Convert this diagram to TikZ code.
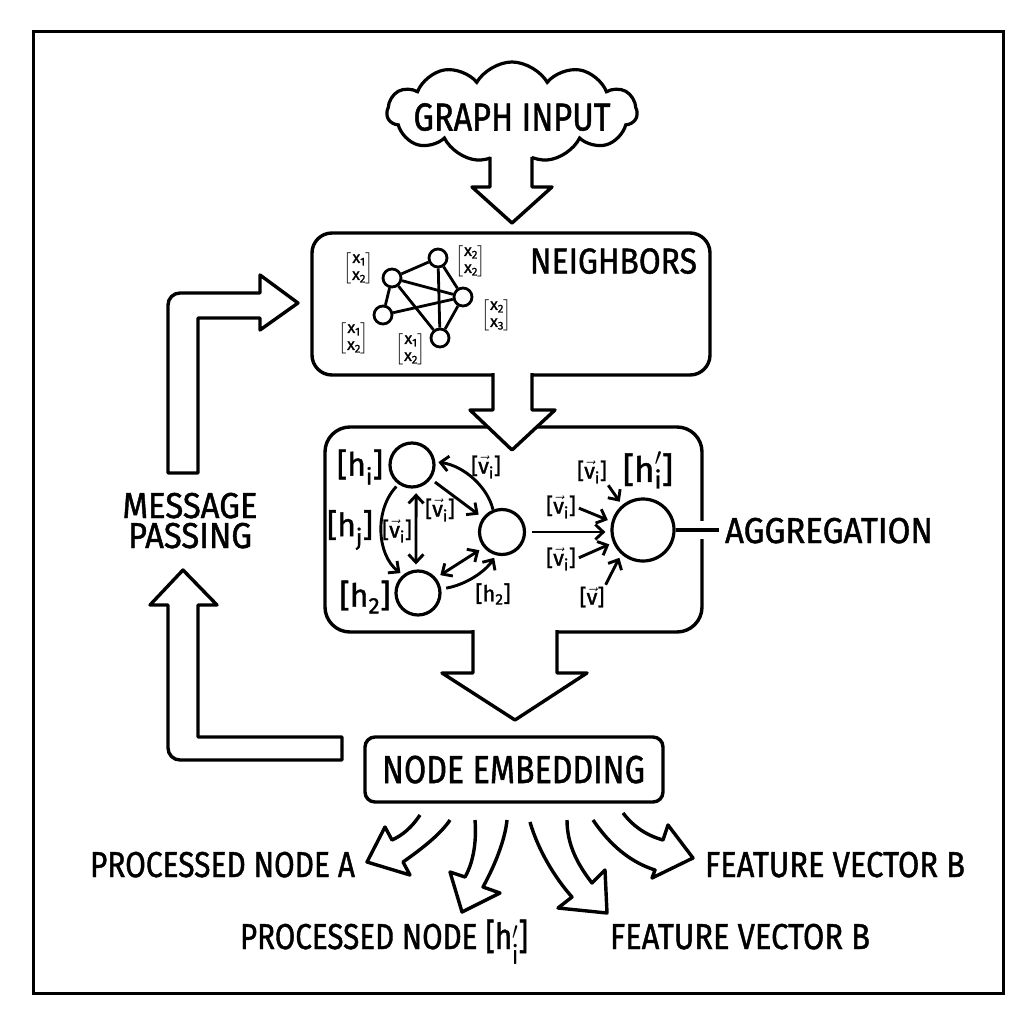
\documentclass[tikz,border=0pt]{standalone}
\usepackage{fontspec}
\setmainfont{Fira Sans}[FakeBold=1.3]
\usepackage{amsmath}
\usepackage{graphicx}
\usetikzlibrary{shapes.symbols,arrows.meta,calc}
\newlength\lblw
\newcommand\fitw[2]{\settowidth\lblw{#2}\pgfmathsetmacro\lblsx{#1/\lblw}\scalebox{\lblsx}[1]{#2}}
\newcommand\mx[2]{$\left[\begin{array}{@{}c@{}}\text{x}_{\text{#1}}\\\text{x}_{\text{#2}}\end{array}\right]$}
\newcommand\vvi{[$\vec{\text{v}}_{\text{i}}$]}
\tikzset{
  box/.style={draw, line width=3.4pt, inner sep=0pt},
  lbl/.style={font=\fontsize{36}{36}\selectfont, anchor=base, inner sep=0pt},
  biglbl/.style={font=\fontsize{39}{39}\selectfont, anchor=base, inner sep=0pt},
  gdot/.style={circle, draw, line width=2.8pt, minimum size=18pt, inner sep=0pt},
  cir/.style={circle, draw, line width=3.2pt, minimum size=44pt, inner sep=0pt},
  edge/.style={line width=2.8pt},
  arr/.style={line width=2.9pt, -{Straight Barb[length=8pt,width=15pt]}},
  darr/.style={line width=2.9pt, {Straight Barb[length=8pt,width=15pt]}-{Straight Barb[length=8pt,width=15pt]}},
  hlab/.style={font=\fontsize{32}{32}\selectfont, inner sep=0pt},
  vlab/.style={font=\fontsize{22}{22}\selectfont, inner sep=0pt},
  mlab/.style={font=\fontsize{16}{17}\selectfont, inner sep=0pt},
  blk/.style={draw, fill=white, line width=3.4pt, line join=round},
}
\begin{document}
\begin{tikzpicture}[x=1pt,y=-1pt]
\useasboundingbox (0,0) rectangle (1024,1024);
\fill[white] (0,0) rectangle (1024,1024);
\draw[line width=3pt] (33,32) rectangle (1003,993);

% ---------- cloud ----------
\node[cloud, draw, line width=3.2pt, cloud puffs=11, cloud puff arc=120, aspect=2.5,
      minimum width=250pt, minimum height=100pt, inner sep=0pt] (cloud) at (512,112) {};
\node[biglbl] (gi) at (512,130.5) {\fitw{197}{GRAPH INPUT}};

% ---------- boxes ----------
\node[box, rounded corners=20pt, minimum width=398pt, minimum height=142pt] (nb) at (511,304) {};
\node[box, rounded corners=25pt, minimum width=377pt, minimum height=205pt] (agg) at (513.5,529.5) {};
\node[box, rounded corners=10pt, minimum width=298pt, minimum height=65pt] (emb) at (514,769.5) {};
\node[biglbl] (embt) at (513.5,783) {\fitw{263}{NODE EMBEDDING}};

% ---------- block arrows ----------
\fill[white] (490,140) -- (490,187) -- (472,187) -- (512,223) -- (552,187) -- (532,187) -- (532,140) -- cycle;
\draw[blk, fill=none] (490,157) -- (490,187) -- (472,187) -- (512,223) -- (552,187) -- (532,187) -- (532,157);
\path[blk] (493,373) -- (493,410) -- (470,410) -- (512,450) -- (555,410) -- (532,410) -- (532,373);
\path[blk] (473,630) -- (473,673) -- (442,673) -- (515,720) -- (587,673) -- (557,673) -- (557,630);

% message passing loop
\draw[blk] (168,473) -- (168,320) [rounded corners=12pt] -- (168,293) -- (200,293) [sharp corners]
   -- (260,293) -- (260,275) -- (298,303) -- (260,330) -- (260,318) -- (198,318) -- (198,473) -- cycle;
\draw[blk] (168,605) -- (150,605) -- (183,570) -- (217,605) -- (198,605) -- (198,737) -- (342,737)
   -- (342,760) -- (200,760) [rounded corners=12pt] -- (168,760) -- (168,730) [sharp corners] -- cycle;
\node[lbl] (mp1) at (190,518) {\fitw{135}{MESSAGE}};
\node[lbl] (mp2) at (190,548) {\fitw{124}{PASSING}};

% ---------- neighbors content ----------
\node[lbl] (nbt) at (613.5,273.5) {\fitw{167}{NEIGHBORS}};
\node[gdot] (n1) at (392,278) {};
\node[gdot] (n2) at (438,258) {};
\node[gdot] (n3) at (463,297) {};
\node[gdot] (n4) at (383,315) {};
\node[gdot] (n5) at (440,338) {};
\draw[edge] (n1) -- (n2);
\draw[edge] (n1) -- (n3);
\draw[edge] (n1) -- (n4);
\draw[edge] (n1) -- (n5);
\draw[edge] (n2) -- (n3);
\draw[edge] (n2) -- (n5);
\draw[edge] (n3) -- (n4);
\draw[edge] (n3) -- (n5);
\node[mlab] (m1) at (359,268) {\mx{1}{2}};
\node[mlab] (m2) at (471,261) {\mx{2}{2}};
\node[mlab] (m3) at (497,315) {\mx{2}{3}};
\node[mlab] (m4) at (354,338) {\mx{1}{2}};
\node[mlab] (m5) at (411,349) {\mx{1}{2}};

% ---------- aggregation content ----------
\node[cir] (A) at (412,465) {};
\node[cir] (B) at (418,593) {};
\node[cir, minimum size=45pt] (C) at (502,532) {};
\node[cir, minimum size=62pt] (D) at (643,530) {};

\node[hlab] (lhi) at (360,467) {[h\textsubscript{i}]};
\node[hlab] (lhj) at (350,530) {[h\textsubscript{j}]};
\node[hlab] (lh2) at (365,597) {[h\textsubscript{2}]};
\node[hlab, font=\fontsize{35}{35}\selectfont] (lhp) at (648,470) {[$\text{h}'_{\text{i}}$]};
\node[vlab] (v1) at (486,467) {\vvi};
\node[vlab] (v2) at (440,510) {\vvi};
\node[vlab] (v3) at (397,531) {\vvi};
\node[vlab] (h2s) at (493,594) {[h\textsubscript{2}]};
\node[vlab] (v5) at (561,507) {\vvi};
\node[vlab] (v6) at (561,559) {\vvi};
\node[vlab] (v7) at (592,472) {\vvi};
\node[vlab] (v8) at (592,597) {[$\vec{\text{v}}$]};

\draw[arr, shorten <=5pt, shorten >=5pt] (A) -- (C);
\draw[arr, shorten >=3pt] (C.112) .. controls (488,488) and (465,466) .. (A.8);
\draw[darr, shorten <=5pt, shorten >=5pt] (A.-80) -- (B.95);
\draw[arr, shorten <=3pt, shorten >=3pt] (A.-125) .. controls (374,510) and (377,555) .. (B.130);
\draw[darr, shorten <=5pt, shorten >=5pt] (B.40) -- (C.-140);
\draw[arr, shorten <=5pt, shorten >=3pt] (B.10) .. controls (465,585) and (485,572) .. (C.-105);
\draw[arr, shorten <=6pt, shorten >=5pt] (C.0) -- (C.0 -| D.west);
\draw[arr, shorten <=3pt, shorten >=4pt] (v5.east) -- (D.165);
\draw[arr, shorten <=3pt, shorten >=4pt] (v6.east) -- (D.203);
\draw[arr, shorten <=2pt, shorten >=4pt] (v7.south east) -- (D.130);
\draw[arr, shorten <=2pt, shorten >=4pt] (v8.north east) -- (D.228);

% aggregation label and connector
\node[lbl] (aggt) at (829,543) {\fitw{208}{AGGREGATION}};
\fill[white] (697,521) rectangle (708,539);
\draw[line width=3.2pt, shorten >=6pt] (D.east) -- (D.east -| aggt.west);

% ---------- outputs ----------
\draw[blk] (420,815) .. controls (412,827) and (403,835) .. (392,840) -- (385,827) -- (367,862)
   -- (410,875) -- (403,862) .. controls (420,850) and (440,835) .. (450,820);
\draw[blk] (475,820) .. controls (477,845) and (472,865) .. (465,877) -- (450,872) -- (462,912)
   -- (500,893) -- (483,887) .. controls (495,865) and (505,840) .. (507,820);
\draw[blk] (530,822) .. controls (538,850) and (555,878) .. (572,897) -- (558,908) -- (607,913)
   -- (605,870) -- (592,883) .. controls (578,865) and (567,845) .. (567,820);
\draw[blk] (593,820) .. controls (610,845) and (630,862) .. (655,870) -- (652,878) -- (693,858)
   -- (668,825) -- (663,840) .. controls (645,835) and (632,825) .. (623,813);

\node[lbl] (oA) at (222.5,877) {\fitw{265}{PROCESSED NODE A}};
\node[lbl] (oB) at (835,877) {\fitw{260}{FEATURE VECTOR B}};
\node[lbl] (oH) at (384,949) {\fitw{288}{PROCESSED NODE [h$'_{\text{i}}$]}};
\node[lbl] (oC) at (740,949) {\fitw{260}{FEATURE VECTOR B}};
\end{tikzpicture}
\end{document}
